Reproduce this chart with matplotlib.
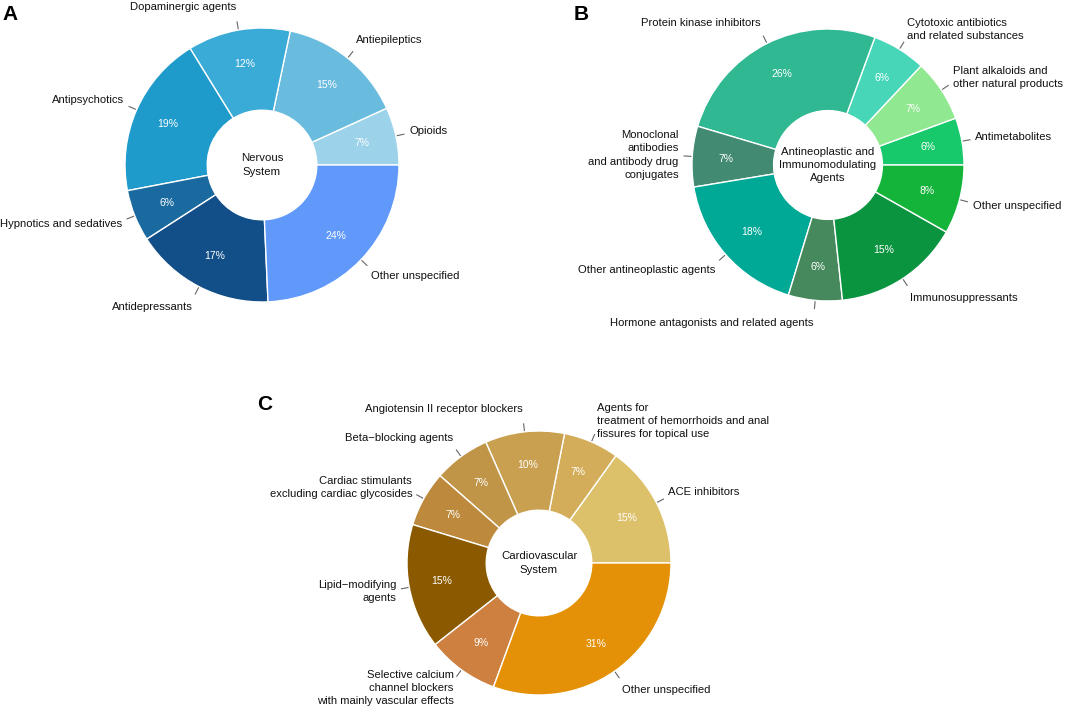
import numpy as np
import matplotlib
matplotlib.use("Agg")
import matplotlib.pyplot as plt

plt.rcParams['font.family'] = ['Liberation Sans', 'DejaVu Sans']

# Panel A - Nervous System
a_labels = ["Opioids", "Antiepileptics", "Dopaminergic agents", "Antipsychotics",
            "Hypnotics and sedatives", "Antidepressants", "Other unspecified"]
a_values = [6.8, 14.9, 12.1, 19.2, 6.1, 16.6, 24.3]
a_colors = ["#9dd3ea", "#6abcdf", "#3aaad6", "#1e9acb", "#1a6aa0", "#124e87", "#6199fb"]

# Panel B - Antineoplastic and Immunomodulating Agents
b_labels = ["Antimetabolites", "Plant alkaloids and\nother natural products",
            "Cytotoxic antibiotics\nand related substances", "Protein kinase inhibitors",
            "Monoclonal\nantibodies\nand antibody drug\nconjugates", "Other antineoplastic agents",
            "Hormone antagonists and related agents", "Immunosuppressants", "Other unspecified"]
b_values = [5.6, 7.4, 6.4, 26.0, 7.2, 17.7, 6.4, 15.1, 8.2]
b_colors = ["#17c96b", "#90e891", "#48d6b8", "#30b893", "#428a72",
            "#00a896", "#46895c", "#0b9440", "#14b43a"]

# Panel C - Cardiovascular System
c_labels = ["ACE inhibitors",
            "Agents for\ntreatment of hemorrhoids and anal\nfissures for topical use",
            "Angiotensin II receptor blockers", "Beta\u2212blocking agents",
            "Cardiac stimulants\nexcluding cardiac glycosides", "Lipid\u2212modifying\nagents",
            "Selective calcium\nchannel blockers\nwith mainly vascular effects", "Other unspecified"]
c_values = [15.1, 6.8, 9.7, 6.9, 6.8, 15.3, 8.8, 30.6]
c_colors = ["#dcc06a", "#d4ad5a", "#c9a04f", "#c19547", "#bd8a3d", "#8b5a00", "#cd8040", "#e59107"]

W, H = 1065, 711
fig = plt.figure(figsize=(W / 100, H / 100), dpi=100)
ax = fig.add_axes([0, 0, 1, 1])


def donut(values, labels, colors, center, radius, title, letter, letter_pos):
    cx, cy = center[0], H - center[1]
    wedges, _, autotexts = ax.pie(values, colors=colors, startangle=0, counterclock=True,
                                  center=(cx, cy), radius=radius, autopct='%.0f%%',
                                  pctdistance=0.75,
                                  wedgeprops=dict(width=0.6 * radius, edgecolor='white', linewidth=1))
    for t in autotexts:
        t.set_color('white')
        t.set_fontsize(7.5)
    for w, lab in zip(wedges, labels):
        ang = np.deg2rad((w.theta1 + w.theta2) / 2)
        c, s = np.cos(ang), np.sin(ang)
        # small leader tick
        ax.plot([cx + 1.01 * radius * c, cx + 1.06 * radius * c],
                [cy + 1.01 * radius * s, cy + 1.06 * radius * s], color='#666666', lw=0.8)
        ha = 'left' if c > 0 else 'right'
        ax.text(cx + 1.10 * radius * c, cy + 1.17 * radius * s, lab, ha=ha, va='center',
                multialignment=ha, fontsize=8.1, color='#111111', linespacing=1.4)
    ax.text(cx, cy, title, ha='center', va='center', fontsize=8.2, color='#111111',
            linespacing=1.4)
    ax.text(letter_pos[0], H - letter_pos[1], letter, ha='left', va='top', fontsize=15,
            fontweight='bold', color='black')


donut(a_values, a_labels, a_colors, (262, 165), 137, "Nervous\nSystem", "A", (2, 5))
donut(b_values, b_labels, b_colors, (828, 165), 136,
      "Antineoplastic and\nImmunomodulating\nAgents", "B", (574, 5))
donut(c_values, c_labels, c_colors, (539, 563), 132, "Cardiovascular\nSystem", "C", (257, 395))

ax.set_xlim(0, W)
ax.set_ylim(0, H)
ax.axis('off')
fig.savefig("out.png", dpi=100)
